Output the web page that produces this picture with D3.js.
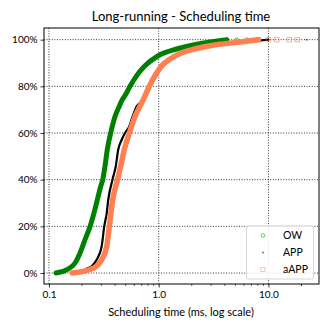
<!DOCTYPE html>
<html><head><meta charset="utf-8">
<script src="https://cdn.jsdelivr.net/npm/d3@7"></script>
<style>body{margin:0;background:#fff}svg{display:block}text{font-family:Lato,"DejaVu Sans",sans-serif;fill:#000}</style>
</head><body>
<script>
// CDF levels and scheduling times (ms), one pair of arrays per series
const owCdf    = [0, 0.014, 0.043, 0.086, 0.143, 0.2, 0.257, 0.314, 0.371, 0.4, 0.457, 0.529, 0.6, 0.671, 0.714, 0.743, 0.76, 0.8, 0.846, 0.888, 0.931, 0.96, 0.981, 0.99];
const owTimes  = [0.116, 0.145, 0.173, 0.192, 0.213, 0.237, 0.257, 0.276, 0.296, 0.309, 0.324, 0.34, 0.365, 0.40, 0.437, 0.466, 0.493, 0.548, 0.63, 0.75, 0.99, 1.46, 2.22, 2.94];
const appCdf   = [0, 0.014, 0.029, 0.057, 0.114, 0.2, 0.257, 0.314, 0.4, 0.457, 0.529, 0.571, 0.6, 0.629, 0.671, 0.714, 0.743, 0.8, 0.846, 0.888, 0.917, 0.946, 0.96, 0.974, 0.99];
const appTimes = [0.2, 0.213, 0.245, 0.272, 0.302, 0.319, 0.336, 0.347, 0.379, 0.406, 0.428, 0.46, 0.493, 0.54, 0.579, 0.63, 0.739, 0.842, 0.955, 1.106, 1.32, 1.74, 2.23, 3.06, 6.1];
const aappCdf   = [0, 0.021, 0.057, 0.114, 0.2, 0.314, 0.4, 0.457, 0.529, 0.6, 0.671, 0.743, 0.8, 0.846, 0.888, 0.917, 0.946, 0.96, 0.974, 0.99];
const aappTimes = [0.162, 0.253, 0.302, 0.336, 0.355, 0.381, 0.421, 0.45, 0.486, 0.54, 0.608, 0.724, 0.821, 0.925, 1.065, 1.268, 1.676, 2.142, 2.935, 5.5];
// sparse tail points at CDF = 1
const owTail   = [4.17, 5.14, 6.34];
const appTail  = [10.0, 22.3];
const aappTail = [8.1, 10.0, 11.9, 15.5, 18.3];
const seriesNames = ["OW", "APP", "aAPP"];
const xTickValues = [0.1, 1, 10];
const yTickValues = [0, 0.2, 0.4, 0.6, 0.8, 1.0];

const W = 332, H = 332;
const svg = d3.select("body").append("svg").attr("width", W).attr("height", H);
const x = d3.scaleLog().domain([0.0901, 28.9]).range([44, 319]);
const y = d3.scaleLinear().domain([-0.047, 1.05]).range([284, 28]);

// grid
const g = svg.append("g");
xTickValues.forEach(v => g.append("line").attr("x1", x(v)).attr("x2", x(v)).attr("y1", 28).attr("y2", 284)
  .attr("stroke", "#000").attr("stroke-width", 0.8).attr("stroke-dasharray", "1,1.6"));
yTickValues.forEach(v => g.append("line").attr("x1", 44).attr("x2", 319).attr("y1", y(v)).attr("y2", y(v))
  .attr("stroke", "#000").attr("stroke-width", 0.8).attr("stroke-dasharray", "1,1.6"));

const colors = {OW: "#008000", APP: "#000000", aAPP: "#ff7f50"};
const data = {
  OW: owTimes.map((t, i) => [t, owCdf[i]]),
  APP: appTimes.map((t, i) => [t, appCdf[i]]),
  aAPP: aappTimes.map((t, i) => [t, aappCdf[i]])
};
const tails = {OW: owTail, APP: appTail, aAPP: aappTail};
const widths = {OW: 5, APP: 2.2, aAPP: 5.5};
const line = d3.line().x(d => x(d[0])).y(d => y(d[1])).curve(d3.curveMonotoneX);

const plot = svg.append("g");
seriesNames.forEach(name => {
  const pts = data[name].concat([[tails[name][0], 1.0]]);
  plot.append("path").attr("d", line(pts)).attr("fill", "none")
    .attr("stroke", colors[name]).attr("stroke-width", widths[name])
    .attr("stroke-linecap", "round").attr("stroke-linejoin", "round");
  tails[name].forEach(t => {
    if (name === "OW") plot.append("circle").attr("cx", x(t)).attr("cy", y(1)).attr("r", 1.8)
      .attr("fill", "none").attr("stroke", colors[name]).attr("stroke-opacity", 0.6);
    else if (name === "APP") plot.append("circle").attr("cx", x(t)).attr("cy", y(1)).attr("r", 0.9)
      .attr("fill", colors[name]).attr("fill-opacity", 0.6);
    else plot.append("rect").attr("x", x(t) - 2.2).attr("y", y(1) - 2.2).attr("width", 4.4).attr("height", 4.4)
      .attr("fill", "none").attr("stroke", colors[name]).attr("stroke-opacity", 0.6);
  });
});

// frame
svg.append("rect").attr("x", 44).attr("y", 28).attr("width", 275).attr("height", 256)
  .attr("fill", "none").attr("stroke", "#000").attr("stroke-width", 1);

// axes
const xAxis = d3.axisBottom(x).tickValues(xTickValues).tickFormat(d3.format(".1f")).tickSize(3.5).tickPadding(3);
const xa = svg.append("g").attr("transform", "translate(0,284)").call(xAxis);
const minor = [];
[0.1, 1, 10].forEach(b => { for (let k = 2; k <= 9; k++) { const v = b * k; if (v <= 28.9) minor.push(v); } });
minor.push(20);
xa.selectAll(".minor").data(minor).enter().append("line").attr("class", "minor")
  .attr("x1", d => x(d)).attr("x2", d => x(d)).attr("y1", 0).attr("y2", 2).attr("stroke", "#000").attr("stroke-width", 0.6);
const ya = svg.append("g").attr("transform", "translate(44,0)")
  .call(d3.axisLeft(y).tickValues(yTickValues).tickFormat(d => Math.round(d * 100) + "%").tickSize(3.5).tickPadding(3));
[xa, ya].forEach(a => {
  a.select(".domain").remove();
  a.selectAll("text").style("font-size", "10px").style("font-family", 'Lato, "DejaVu Sans", sans-serif');
  a.selectAll(".tick line").attr("stroke-width", 0.8);
});

svg.append("text").attr("x", 181).attr("y", 21).attr("text-anchor", "middle").style("font-size", "13px")
  .text("Long-running - Scheduling time");
svg.append("text").attr("x", 181).attr("y", 316).attr("text-anchor", "middle").style("font-size", "11px")
  .text("Scheduling time (ms, log scale)");

// legend
const lg = svg.append("g");
lg.append("rect").attr("x", 246.5).attr("y", 226).attr("width", 67).attr("height", 53).attr("rx", 2)
  .attr("fill", "#fff").attr("fill-opacity", 0.85).attr("stroke", "#ccc").attr("stroke-width", 0.8);
seriesNames.forEach((name, i) => {
  const cy = 235.5 + i * 17;
  if (name === "OW") lg.append("circle").attr("cx", 263).attr("cy", cy).attr("r", 1.8)
    .attr("fill", "none").attr("stroke", colors[name]).attr("stroke-opacity", 0.5);
  else if (name === "APP") lg.append("circle").attr("cx", 263).attr("cy", cy).attr("r", 0.9)
    .attr("fill", colors[name]).attr("fill-opacity", 0.6);
  else lg.append("rect").attr("x", 261).attr("y", cy - 2).attr("width", 4).attr("height", 4)
    .attr("fill", "none").attr("stroke", colors[name]).attr("stroke-opacity", 0.5);
  lg.append("text").attr("x", 283).attr("y", cy + 3.8).style("font-size", "10.5px").text(name);
});
</script>
</body></html>
